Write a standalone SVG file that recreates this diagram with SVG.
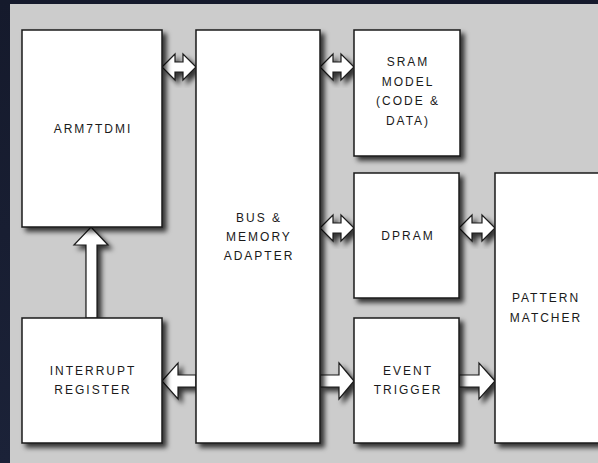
<svg xmlns="http://www.w3.org/2000/svg" width="598" height="463" viewBox="0 0 598 463">
<defs>
<filter id="sh" x="-20%" y="-20%" width="150%" height="150%">
<feDropShadow dx="4" dy="4" stdDeviation="2.5" flood-color="#000" flood-opacity="0.75"/>
</filter>
<linearGradient id="bg" x1="0" y1="0" x2="0" y2="1">
<stop offset="0" stop-color="#151a2c"/>
<stop offset="1" stop-color="#1b2238"/>
</linearGradient>
</defs>
<style>
.box{fill:#fff;stroke:#1a1a1a;stroke-width:1.5;filter:url(#sh)}
.arr{fill:#fff;stroke:#1a1a1a;stroke-width:1.2;stroke-linejoin:miter;filter:url(#sh)}
text{font-family:"Liberation Sans",Arial,sans-serif;font-size:12px;fill:#1a1a1a;text-anchor:middle;letter-spacing:2px}
</style>
<rect width="598" height="463" fill="url(#bg)"/>
<rect x="10" y="4" width="588" height="459" fill="#cccccc"/>
<g id="connectors">
<path class="arr" d="M162,67 L175,54 L175,62 L183,62 L183,54 L196,67 L183,80 L183,72 L175,72 L175,80 Z"/>
<path class="arr" d="M320,67 L333,54 L333,62 L341,62 L341,54 L354,67 L341,80 L341,72 L333,72 L333,80 Z"/>
<path class="arr" d="M320,228 L333,215 L333,223 L341,223 L341,215 L354,228 L341,241 L341,233 L333,233 L333,241 Z"/>
<path class="arr" d="M459,228 L472,215 L472,223 L482,223 L482,215 L495,228 L482,241 L482,233 L472,233 L472,241 Z"/>
<path class="arr" d="M91,227 L108,245 L97,245 L97,318 L86,318 L86,245 L74,245 Z"/>
<path class="arr" d="M162,381 L178,363 L178,375 L196,375 L196,387 L178,387 L178,399 Z"/>
<path class="arr" d="M354,381 L339,363 L339,375 L320,375 L320,387 L339,387 L339,399 Z"/>
<path class="arr" d="M495,381 L479,363 L479,375 L459,375 L459,387 L479,387 L479,399 Z"/>
</g>
<g id="arm">
<rect class="box" x="22" y="30" width="140" height="197"/>
<text x="93" y="133">ARM7TDMI</text>
</g>
<g id="interrupt">
<rect class="box" x="22" y="318" width="140" height="125"/>
<text x="93" y="375">INTERRUPT</text>
<text x="93" y="394">REGISTER</text>
</g>
<g id="bus">
<rect class="box" x="196" y="30" width="124" height="413"/>
<text x="259" y="222">BUS &amp;</text>
<text x="259" y="241">MEMORY</text>
<text x="259" y="260">ADAPTER</text>
</g>
<g id="sram">
<rect class="box" x="354" y="30" width="106" height="126"/>
<text x="408" y="66">SRAM</text>
<text x="408" y="86">MODEL</text>
<text x="408" y="105">(CODE &amp;</text>
<text x="408" y="125">DATA)</text>
</g>
<g id="dpram">
<rect class="box" x="354" y="173" width="105" height="125"/>
<text x="408" y="240">DPRAM</text>
</g>
<g id="event">
<rect class="box" x="354" y="318" width="105" height="125"/>
<text x="408" y="375">EVENT</text>
<text x="408" y="394">TRIGGER</text>
</g>
<g id="pattern">
<rect class="box" x="495" y="173" width="120" height="270"/>
<text x="546" y="302">PATTERN</text>
<text x="546" y="322">MATCHER</text>
</g>
</svg>
